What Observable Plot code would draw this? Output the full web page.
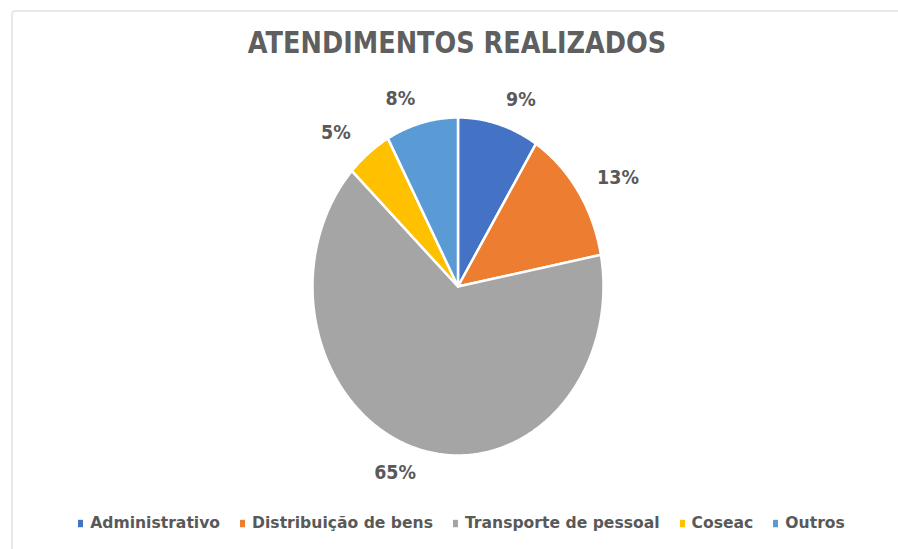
<!DOCTYPE html>
<html>
<head>
<meta charset="utf-8">
<script src="https://cdn.jsdelivr.net/npm/d3@7"></script>
<script src="https://cdn.jsdelivr.net/npm/@observablehq/plot@0.6"></script>
<style>
  html, body { margin: 0; padding: 0; background: #fff; }
  #wrap { position: relative; width: 898px; height: 549px; overflow: hidden; background: #fff; font-family: "DejaVu Sans", sans-serif; }
  #frame { position: absolute; left: 11px; top: 10px; right: -10px; bottom: -10px; border-left: 2px solid #e9e9e9; border-top: 2px solid #e9e9e9; border-top-left-radius: 4px; }
  #title { position: absolute; left: 0; width: 914px; top: 28px; text-align: center; font-weight: bold; font-size: 25.6px; color: #5f5f5f; transform: scaleY(1.16); line-height: 30px; white-space: nowrap; }
  #chart { position: absolute; left: 0; top: 80px; }
  #legend { position: absolute; left: 0; width: 923px; top: 514px; display: flex; justify-content: center; align-items: center; transform: scaleY(1.06); }
  .item { display: flex; align-items: center; margin: 0 10px; font-weight: bold; font-size: 15.6px; color: #595959; white-space: nowrap; }
  .sw { width: 5px; height: 7px; margin-right: 7px; }
</style>
</head>
<body>
<div id="wrap">
  <div id="frame"></div>
  <div id="title"></div>
  <div id="chart"></div>
  <div id="legend"></div>
</div>
<script>
const title = "ATENDIMENTOS REALIZADOS";
const categories = ["Administrativo", "Distribuição de bens", "Transporte de pessoal", "Coseac", "Outros"];
const values = [9, 13, 65, 5, 8];
const colors = ["#4472C4", "#ED7D31", "#A5A5A5", "#FFC000", "#5B9BD5"];

document.getElementById("title").textContent = title;

// slice geometry from data (angles clockwise from 12 o'clock)
const total = d3.sum(values);
const pie = d3.pie().sort(null).value(d => d.value)(categories.map((name, i) => ({name, value: values[i]})));
const polys = [];
pie.forEach(s => {
  const name = s.data.name;
  polys.push({name, x: 0, y: 0});
  const n = Math.max(4, Math.ceil((s.endAngle - s.startAngle) / (Math.PI / 360)));
  for (let k = 0; k <= n; k++) {
    const a = s.startAngle + (s.endAngle - s.startAngle) * k / n;
    polys.push({name, x: Math.sin(a), y: Math.cos(a)});
  }
});
const labels = pie.map(s => {
  const m = (s.startAngle + s.endAngle) / 2;
  const sx = Math.sin(m), cy = Math.cos(m);
  return {
    name: s.data.name,
    text: Math.round(s.data.value / total * 100) + "%",
    x: 1.217 * sx + 0.093 * Math.sign(sx),
    y: 1.15 * cy
  };
});

const svg = Plot.plot({
  width: 898,
  height: 420,
  marginLeft: 312,
  marginRight: 295,
  marginTop: 37,
  marginBottom: 45,
  x: {domain: [-1, 1], axis: null},
  y: {domain: [-1, 1], axis: null},
  color: {domain: categories, range: colors},
  style: {background: "transparent", fontFamily: "DejaVu Sans, sans-serif"},
  marks: [
    Plot.line(polys, {x: "x", y: "y", z: "name", fill: "name", stroke: "white", strokeWidth: 2.5, curve: "linear-closed", strokeLinejoin: "round"}),
    Plot.text(labels, {x: "x", y: "y", text: "text", fontSize: 17.5, fontWeight: "bold", fill: "#595959"})
  ]
});
d3.select(svg).selectAll("g[aria-label='text'] text").each(function() {
  const t = this.getAttribute("transform") || "";
  this.setAttribute("transform", t + " scale(1,1.12)");
});
document.getElementById("chart").appendChild(svg);

const legend = document.getElementById("legend");
categories.forEach((c, i) => {
  const it = document.createElement("div");
  it.className = "item";
  const sw = document.createElement("span");
  sw.className = "sw";
  sw.style.background = colors[i];
  const tx = document.createElement("span");
  tx.textContent = c;
  it.appendChild(sw);
  it.appendChild(tx);
  legend.appendChild(it);
});
</script>
</body>
</html>
